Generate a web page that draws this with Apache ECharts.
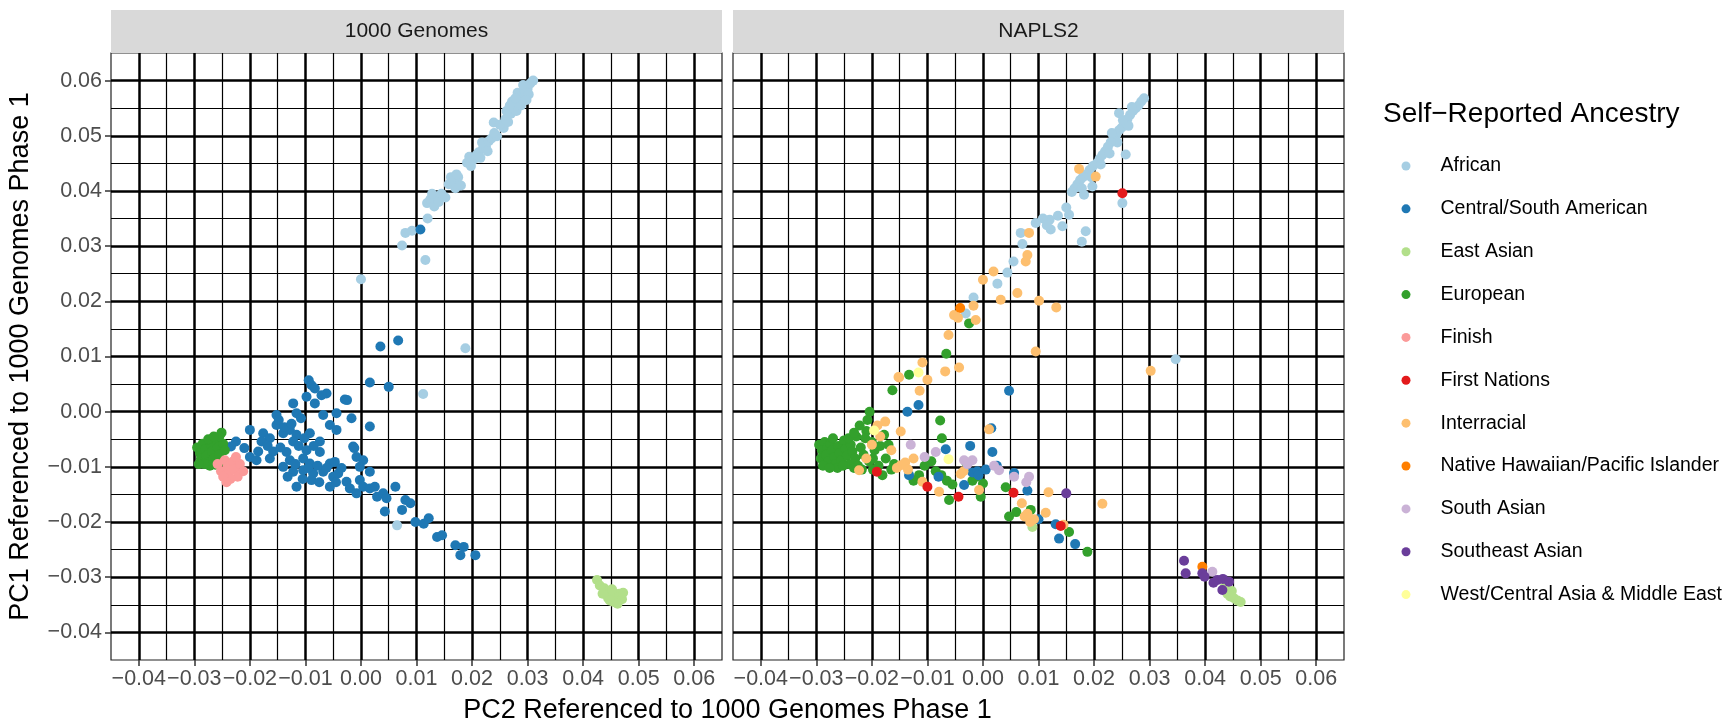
<!DOCTYPE html>
<html>
<head>
<meta charset="utf-8">
<script src="https://cdn.jsdelivr.net/npm/echarts@6/dist/echarts.min.js"></script>
<style>
html,body{margin:0;padding:0;background:#fff;}
#chart{width:1726px;height:727px;}
</style>
</head>
<body>
<div id="chart"></div>
<script>
// ---------- categories / colours ----------
const CATEGORIES = ["African","Central/South American","East Asian","European","Finish","First Nations","Interracial","Native Hawaiian/Pacific Islander","South Asian","Southeast Asian","West/Central Asia & Middle East"];
const COLORS = ["#A6CEE3","#1F78B4","#B2DF8A","#33A02C","#FB9A99","#E31A1C","#FDBF6F","#FF7F00","#CAB2D6","#6A3D9A","#FFFF99"];
const PANELS = ["1000 Genomes","NAPLS2"];
const AXIS_TICKS = [-0.04,-0.03,-0.02,-0.01,0.00,0.01,0.02,0.03,0.04,0.05,0.06];

// ---------- 1000 Genomes panel (PC2, PC1) ----------
const kg_african = [[0.000,0.024],[0.0116,0.0275],[0.0074,0.0301],[0.008,0.0324],[0.0092,0.0328],[0.012,0.035],[0.0188,0.0115],[0.0112,0.0032],[0.0065,-0.0206],
 [0.0119,0.0378],[0.0125,0.0385],[0.0137,0.039],[0.0132,0.0372],[0.0145,0.0395],[0.0152,0.0388],[0.0128,0.0395],[0.014,0.038],
 [0.0158,0.0412],[0.0167,0.0417],[0.0175,0.0425],[0.017,0.0405],[0.0162,0.0425],[0.018,0.041],[0.0172,0.043],
 [0.0191,0.0451],[0.0198,0.0445],[0.0203,0.0457],[0.0195,0.0462],[0.0208,0.0465],[0.0212,0.047],[0.0215,0.046],[0.022,0.0478],[0.0225,0.048],[0.0218,0.0488],[0.023,0.049],[0.0235,0.0495],[0.0228,0.0472],[0.0239,0.0524],[0.0245,0.0499],[0.024,0.0505],
 [0.0257,0.0514],[0.025,0.052],[0.026,0.053],[0.0265,0.0525],[0.027,0.054],[0.0262,0.0545],[0.0275,0.055],[0.028,0.0545],[0.0272,0.0562],[0.0285,0.056],[0.029,0.057],[0.0282,0.0578],[0.0295,0.058],[0.030,0.0585],[0.0292,0.0592],[0.0305,0.0595],[0.031,0.060],[0.0302,0.0575],[0.0288,0.0555],[0.0268,0.0555],[0.0278,0.0568],[0.0298,0.0565]];
const kg_csa = [[0.0107,0.033],[0.0035,0.0118],[0.0067,0.0129],
 [-0.0094,0.0057],[-0.0089,0.0048],[-0.0083,0.0042],[0.0016,0.0053],[0.005,0.0045],[-0.0062,0.0033],[-0.0071,0.003],[-0.0098,0.0027],[-0.0122,0.0015],[-0.0083,0.0015],[-0.0029,0.0022],[-0.0025,0.0021],
 [-0.0116,-0.0003],[-0.0068,-0.0006],[-0.0044,-0.0003],[-0.0017,-0.0012],[-0.0152,-0.0006],[-0.0152,-0.0024],[0.0016,-0.0027],[-0.0056,-0.0024],[-0.0044,-0.0033],
 [-0.020,-0.0033],[-0.0176,-0.0039],[-0.0164,-0.0048],[-0.014,-0.0039],[-0.0128,-0.0033],[-0.0116,-0.0042],[-0.0092,-0.0039],[-0.0074,-0.0054],[-0.0122,-0.0054],[-0.0179,-0.0054],[-0.0225,-0.0054],[-0.0234,-0.0063],[-0.021,-0.0066],[-0.0074,-0.0073],[-0.0014,-0.0063],[-0.0012,-0.0066],
 [-0.020,-0.0082],[-0.0188,-0.0088],[-0.0164,-0.0085],[-0.0134,-0.0073],[-0.0128,-0.0088],[-0.0104,-0.0085],[-0.0092,-0.0094],[-0.0056,-0.0094],[-0.0047,-0.0091],[-0.0008,-0.0082],[0.0004,-0.0088],[-0.0002,-0.010],[0.0016,-0.0109],
 [-0.014,-0.010],[-0.0122,-0.0109],[-0.0104,-0.0106],[-0.0086,-0.0112],[-0.0068,-0.0109],[-0.005,-0.0118],[-0.0041,-0.0112],[-0.0116,-0.0136],[-0.0089,-0.0124],[-0.0056,-0.0136],[-0.0026,-0.0127],[-0.002,-0.0139],[-0.0002,-0.0124],[-0.0008,-0.0148],[0.0004,-0.0136],[0.0016,-0.0139],
 [-0.0148,-0.0015],[-0.0138,-0.0028],[-0.0125,-0.0022],[-0.0108,-0.0012],[-0.0102,-0.0048],[-0.0112,-0.0062],[-0.0098,-0.007],[-0.0085,-0.0062],[-0.0145,-0.0065],[-0.0158,-0.0072],[-0.0118,-0.0095],[-0.0095,-0.0102],[-0.0078,-0.0098],[-0.0062,-0.0102],[-0.0035,-0.0102],[-0.0132,-0.0118],[-0.0105,-0.0122],[-0.0075,-0.0128],[-0.0045,-0.0128],[-0.0185,-0.0072],[-0.0168,-0.0062],
 [0.0029,-0.0154],[0.0025,-0.0136],[0.004,-0.0148],[0.0062,-0.0136],[0.0046,-0.0157],[0.0043,-0.0181],[0.0074,-0.0178],[0.008,-0.016],[0.0089,-0.0166],
 [0.0098,-0.020],[0.0113,-0.0203],[0.0122,-0.0193],[0.0137,-0.0227],[0.0146,-0.0224],[0.017,-0.0242],[0.0185,-0.0245],[0.0179,-0.026],[0.0206,-0.026]];
const kg_eastasian = [[0.0425,-0.0305],[0.043,-0.0315],[0.0438,-0.032],[0.0445,-0.0325],[0.045,-0.0332],[0.0458,-0.0335],[0.0465,-0.033],[0.047,-0.034],[0.0455,-0.0345],[0.0445,-0.0338],[0.0462,-0.0348],[0.0435,-0.033],[0.0472,-0.0328],[0.0452,-0.0322],[0.0448,-0.0342]];
const kg_european = [[-0.0295,-0.0065],[-0.029,-0.0075],[-0.0288,-0.0085],[-0.0285,-0.0058],[-0.028,-0.0068],[-0.0278,-0.008],[-0.0275,-0.0092],[-0.027,-0.006],[-0.0268,-0.0072],[-0.0265,-0.0085],[-0.026,-0.0052],[-0.0258,-0.0065],[-0.0255,-0.0078],[-0.0252,-0.009],[-0.0251,-0.0038],[-0.0248,-0.0058],[-0.0245,-0.007],[-0.0272,-0.0098],[-0.0262,-0.0096],[-0.0282,-0.0095],[-0.0255,-0.0045],[-0.0292,-0.0095],[-0.0275,-0.005],[-0.0265,-0.0045]];
const kg_finish = [[-0.0258,-0.0095],[-0.0252,-0.0108],[-0.0245,-0.0088],[-0.024,-0.010],[-0.0238,-0.0115],[-0.023,-0.009],[-0.0228,-0.0105],[-0.0222,-0.0118],[-0.0218,-0.0095],[-0.0212,-0.0108],[-0.0235,-0.0122],[-0.0248,-0.0118],[-0.0225,-0.0082],[-0.0242,-0.0128]];

// ---------- NAPLS2 panel (PC2, PC1) ----------
const np_african = [[0.029,0.0568],[0.0285,0.0562],[0.028,0.0555],[0.0275,0.055],[0.0245,0.0541],[0.027,0.0545],[0.0265,0.0538],[0.026,0.053],[0.0255,0.0522],[0.025,0.0515],[0.0262,0.0518],[0.0245,0.051],[0.024,0.0502],[0.0235,0.0495],[0.0242,0.0488],[0.023,0.0488],[0.0225,0.048],[0.022,0.0472],[0.0215,0.0465],[0.021,0.0458],[0.0205,0.045],[0.0198,0.0445],[0.0192,0.0438],[0.0186,0.043],[0.018,0.0425],[0.0175,0.042],[0.017,0.0412],[0.0165,0.0405],[0.016,0.0398],
 [0.0257,0.0466],[0.0251,0.0378],[0.0197,0.0408],[0.0182,0.0393],[0.0155,0.0357],[0.0143,0.0336],[0.0122,0.033],[0.0095,0.0342],[0.015,0.037],[0.0135,0.0355],[0.012,0.0348],[0.0185,0.0327],[0.0178,0.0308],[0.0068,0.0324],[0.0071,0.0304],[0.0055,0.0272],[0.0044,0.0252],[0.0026,0.0232],[-0.0017,0.0207],[-0.0031,0.0178],[0.0347,0.0095],[0.0108,0.035],[0.0115,0.0338],
 [0.0228,0.0468],[0.0212,0.0448],[0.0195,0.0425],[0.0178,0.0405],[0.0232,0.0505],[0.0252,0.0528],[0.0268,0.0552]];
const np_csa = [[0.0047,0.0038],[-0.0136,0.0],[-0.0116,0.0012],[0.0017,-0.0073],[-0.0023,-0.0062],[-0.0067,-0.0068],[0.0056,-0.0111],[-0.0019,-0.011],[-0.001,-0.0108],[0.0005,-0.0105],[-0.0008,-0.0115],[-0.0133,-0.0115],[-0.0034,-0.0133],[0.008,-0.0143],[0.010,-0.0195],[0.0131,-0.0204],[0.0137,-0.023],[0.0166,-0.024],[0.0025,-0.0098],[-0.008,-0.0118],[0.0015,-0.003]];
const np_eastasian = [[0.0089,-0.0209],[0.0435,-0.0318],[0.044,-0.033],[0.0448,-0.0325],[0.0452,-0.0338],[0.0458,-0.0342],[0.0445,-0.0335],[0.0464,-0.0345]];
const np_european = [[-0.0295,-0.006],[-0.029,-0.007],[-0.0292,-0.0085],[-0.0285,-0.0055],[-0.028,-0.0065],[-0.0282,-0.0078],[-0.0278,-0.009],[-0.0275,-0.0058],[-0.027,-0.0048],[-0.0272,-0.007],[-0.0268,-0.0082],[-0.0265,-0.0095],[-0.026,-0.0062],[-0.0258,-0.0075],[-0.0255,-0.0088],[-0.025,-0.0052],[-0.0248,-0.0068],[-0.0245,-0.008],[-0.024,-0.0095],[-0.0238,-0.006],[-0.0235,-0.0072],[-0.023,-0.0085],[-0.0228,-0.0045],[-0.0225,-0.0098],[-0.022,-0.0065],[-0.0215,-0.0078],[-0.021,-0.0035],[-0.0205,-0.009],[-0.0204,0.0],[-0.0208,-0.0015],[-0.020,-0.0055],[-0.0195,-0.007],[-0.0188,-0.0098],[-0.0181,-0.0115],[-0.0175,-0.0085],[-0.017,-0.006],[-0.0165,-0.0105],[-0.016,-0.0095],[-0.0262,-0.0102],[-0.0218,-0.0105],
 [-0.0288,-0.0098],[-0.0276,-0.0102],[-0.0252,-0.0098],[-0.0242,-0.0048],[-0.0232,-0.0038],[-0.0222,-0.0025],[-0.0212,-0.0048],[-0.0198,-0.0085],[-0.0185,-0.0062],[-0.0178,-0.0042],[-0.0198,-0.0105],[-0.0232,-0.0102],
 [-0.0163,0.0039],[-0.0133,0.0067],[-0.0025,0.016],[-0.0066,0.0105],[-0.0077,-0.0016],[-0.0074,-0.0048],[-0.0093,-0.009],[-0.0085,-0.0108],[-0.0075,-0.0115],[-0.0065,-0.0125],[-0.0055,-0.0132],[-0.0061,-0.016],[-0.0019,-0.0125],[-0.0012,-0.0118],[-0.0004,-0.0154],[0.0,-0.013],[0.0041,-0.0137],[0.0086,-0.0178],[0.0047,-0.019],[0.006,-0.0182],[0.0155,-0.0218],[0.0188,-0.0254],[-0.0115,-0.0115],[-0.0125,-0.0125],[-0.0105,-0.0098],[-0.003,-0.0092]];
const np_firstnations = [[0.0251,0.0396],[-0.0191,-0.0109],[-0.010,-0.0136],[-0.0044,-0.0154],[0.0055,-0.0147],[0.014,-0.0207]];
const np_interracial = [[0.0173,0.044],[0.0203,0.0426],[0.0083,0.0324],[0.008,0.0284],[0.0077,0.0272],[0.0019,0.0254],[0.0,0.0239],[0.0062,0.0215],[0.0032,0.0203],[0.0101,0.0201],[0.0132,0.0189],[-0.0017,0.0192],[-0.0052,0.0175],[-0.0045,0.017],[-0.0013,0.0166],[-0.0062,0.0139],[0.0095,0.0109],[-0.0109,0.0089],[-0.0152,0.0063],[-0.0068,0.0073],[-0.0043,0.008],[0.0302,0.0074],[-0.0114,0.0038],[-0.010,0.0058],[-0.0151,0.0062],
 [-0.0176,-0.0018],[-0.0148,-0.0036],[-0.019,-0.0025],[0.0011,-0.0032],[-0.0148,-0.0097],[-0.014,-0.0092],[-0.0155,-0.0102],[-0.0135,-0.0105],[-0.0223,-0.0106],[-0.0109,-0.0127],[-0.0079,-0.0145],[-0.004,-0.0113],[-0.0035,-0.0108],[-0.0007,-0.0142],[0.0118,-0.0146],[0.0215,-0.0167],[0.007,-0.0166],[0.0113,-0.0183],[0.0075,-0.019],[0.0085,-0.020],[0.0092,-0.0195],[0.008,-0.0185],[0.0145,-0.0205],[-0.020,-0.006],[-0.0185,-0.0045],[-0.0165,-0.007],[-0.021,-0.0085],[-0.0125,-0.0085]];
const np_hawaiian = [[-0.0041,0.0188],[0.0395,-0.0281]];
const np_southasian = [[-0.013,-0.006],[-0.0085,-0.0073],[-0.0034,-0.0088],[-0.0019,-0.0088],[-0.0028,-0.0095],[0.0029,-0.0106],[0.002,-0.0098],[0.0056,-0.0118],[0.0083,-0.0118],[0.0078,-0.0128],[-0.0105,-0.0082],[0.0413,-0.029]];
const np_southeastasian = [[0.015,-0.0148],[0.0362,-0.027],[0.0365,-0.0293],[0.0395,-0.0293],[0.0399,-0.0299],[0.0422,-0.0305],[0.0432,-0.0303],[0.0443,-0.0308],[0.0431,-0.0323],[0.0415,-0.031]];
const np_westcentral = [[-0.0116,0.0071],[-0.0062,-0.0086],[-0.0196,-0.0034]];

// ---------- assemble ----------
const panelSeries = [
  [["African",kg_african],["Central/South American",kg_csa],["East Asian",kg_eastasian],["European",kg_european],["Finish",kg_finish]],
  [["African",np_african],["European",np_european],["Central/South American",np_csa],["East Asian",np_eastasian],["Interracial",np_interracial],["South Asian",np_southasian],["First Nations",np_firstnations],["Native Hawaiian/Pacific Islander",np_hawaiian],["Southeast Asian",np_southeastasian],["West/Central Asia & Middle East",np_westcentral]]
];

const FONT = "'Liberation Sans', Arial, Helvetica, sans-serif";
const GRID_TOP = 53, GRID_H = 607;
const GRID_LEFTS = [111, 733], GRID_W = 611;

function fmt(v){
  const r = Math.round(v*100);
  if (Math.abs(v*100 - r) > 1e-6) return '';
  const s = Math.abs(r/100).toFixed(2);
  return (r < 0 ? '\u2212' : '') + s;
}

function makeAxis(dim, gi, showLabels){
  return {
    type:'value', gridIndex:gi, min:-0.045, max:0.065, splitNumber:11, minInterval:0.01, maxInterval:0.01,
    axisLine:{show:false, onZero:false},
    axisTick:{show:showLabels, customValues:AXIS_TICKS, length:6, lineStyle:{color:'#333', width:1.5}},
    axisLabel:{show:showLabels, customValues:AXIS_TICKS, formatter:fmt, fontFamily:FONT, fontSize:21.5, color:'#4d4d4d',
               margin: dim==='x'?8:9, showMinLabel:true, showMaxLabel:true, hideOverlap:false},
    splitLine:{show:true, lineStyle:{color:'#000', width:2.5}},
    minorTick:{show:false, splitNumber:2},
    minorSplitLine:{show:true, lineStyle:{color:'#000', width:1.2}}
  };
}

const grids = GRID_LEFTS.map(l => ({left:l, top:GRID_TOP, width:GRID_W, height:GRID_H, show:true, borderColor:'#222', borderWidth:1.2, backgroundColor:'#fff'}));
const xAxes = [makeAxis('x',0,true), makeAxis('x',1,true)];
const yAxes = [makeAxis('y',0,true), makeAxis('y',1,false)];
yAxes[0].name = 'PC1 Referenced to 1000 Genomes Phase 1';
yAxes[0].nameLocation = 'middle';
yAxes[0].nameGap = 77;
yAxes[0].nameTextStyle = {fontFamily:FONT, fontSize:27, color:'#000'};

const series = [];
panelSeries.forEach((list, gi) => {
  list.forEach(([name, data]) => {
    series.push({
      type:'scatter', name:name, xAxisIndex:gi, yAxisIndex:gi, data:data,
      symbol:'circle', symbolSize:10, silent:true,
      itemStyle:{color:COLORS[CATEGORIES.indexOf(name)], opacity:1},
      emphasis:{disabled:true}
    });
  });
});

const graphics = [];
PANELS.forEach((p, i) => {
  graphics.push({type:'rect', left:GRID_LEFTS[i], top:10, shape:{width:GRID_W, height:43}, style:{fill:'#d9d9d9'}, silent:true});
  graphics.push({type:'text', x:GRID_LEFTS[i]+GRID_W/2, y:31.5, style:{text:p, font:'21px '+FONT, fill:'#1a1a1a', textAlign:'center', textVerticalAlign:'middle'}, silent:true});
});
graphics.push({type:'text', x:(GRID_LEFTS[0]+GRID_LEFTS[1]+GRID_W)/2, y:711, style:{text:'PC2 Referenced to 1000 Genomes Phase 1', font:'27px '+FONT, fill:'#000', textAlign:'center', textVerticalAlign:'middle'}, silent:true});
graphics.push({type:'text', x:1383, y:114, style:{text:'Self\u2212Reported Ancestry', font:'28px '+FONT, fill:'#000', textAlign:'left', textVerticalAlign:'middle'}, silent:true});

const option = {
  animation:false,
  backgroundColor:'#fff',
  color:COLORS,
  grid:grids, xAxis:xAxes, yAxis:yAxes, series:series,
  legend:{
    data:CATEGORIES, orient:'vertical', left:1401.5, top:156, padding:0,
    itemWidth:9, itemHeight:9, itemGap:22.86, icon:'circle', selectedMode:false,
    textStyle:{fontFamily:FONT, fontSize:19.5, lineHeight:19.5, color:'#000', padding:[0,0,0,25]}
  },
  graphic:graphics
};

const chart = echarts.init(document.getElementById('chart'), null, {renderer:'canvas'});
chart.setOption(option);
</script>
</body>
</html>
